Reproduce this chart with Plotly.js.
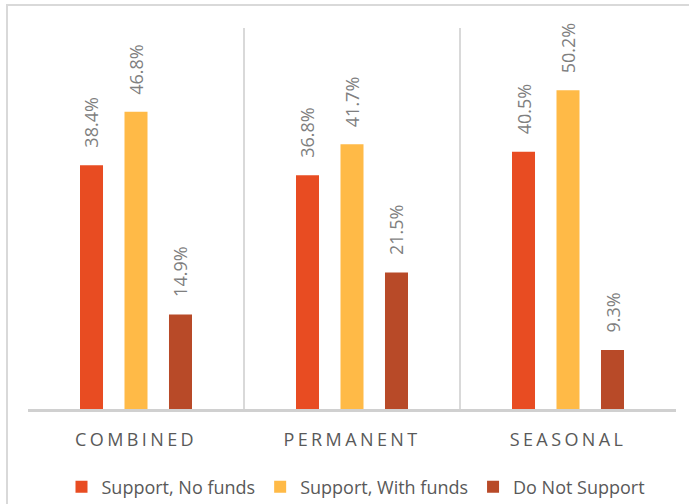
<!DOCTYPE html>
<html>
<head>
<meta charset="utf-8">
<script src="https://cdn.plot.ly/plotly-3.0.1.min.js"></script>
<style>
  html, body { margin: 0; padding: 0; background: #ffffff; overflow: hidden; }
  #frame { position: absolute; left: 6px; top: 4px; width: 720px; height: 540px; border: 2px solid #d9d9d9; box-sizing: border-box; }
  #chart { position: absolute; left: 0; top: 0; width: 689px; height: 504px; }
  #chart .xtick text { letter-spacing: 3.4px; }
</style>
</head>
<body>
<div id="frame"></div>
<div id="chart"></div>
<script>
const categories = ["COMBINED", "PERMANENT", "SEASONAL"];
const seriesNames = ["Support, No funds", "Support, With funds", "Do Not Support"];
const supportNoFunds = [38.4, 36.8, 40.5];
const supportWithFunds = [46.8, 41.7, 50.2];
const doNotSupport = [14.9, 21.5, 9.3];
const seriesColors = ["#E84C22", "#FFBA47", "#B84A28"];

const allSeries = [supportNoFunds, supportWithFunds, doNotSupport];
const bargap = 0.382;
const bargroupgap = 0.483;

const traces = allSeries.map((vals, i) => ({
  type: "bar",
  name: seriesNames[i],
  x: categories,
  y: vals,
  marker: { color: seriesColors[i] },
  hoverinfo: "none"
}));

const slot = (1 - bargap) / allSeries.length;
const annotations = [];
allSeries.forEach((vals, i) => {
  vals.forEach((v, j) => {
    annotations.push({
      xref: "x", yref: "y",
      x: j + (i - (allSeries.length - 1) / 2) * slot,
      y: v,
      text: v.toFixed(1) + "%",
      showarrow: false,
      textangle: -90,
      yanchor: "bottom",
      xanchor: "center",
      yshift: 15,
      font: { family: "Open Sans", size: 18, color: "#7f7f7f" }
    });
  });
});

const layout = {
  width: 689,
  height: 504,
  margin: { l: 28, r: 13, t: 28, b: 95, autoexpand: false },
  paper_bgcolor: "rgba(0,0,0,0)",
  plot_bgcolor: "rgba(0,0,0,0)",
  barmode: "group",
  bargap: bargap,
  bargroupgap: bargroupgap,
  font: { family: "Open Sans", size: 18, color: "#595959" },
  xaxis: {
    type: "category",
    automargin: false,
    tickson: "boundaries",
    showgrid: true,
    gridcolor: "#d9d9d9",
    gridwidth: 2,
    ticks: "",
    ticklabelstandoff: 12,
    showline: true,
    linecolor: "#d0d0d0",
    linewidth: 3,
    tickfont: { family: "Open Sans", size: 18, color: "#595959" },
    fixedrange: true
  },
  yaxis: {
    range: [0, 60],
    automargin: false,
    showgrid: false,
    zeroline: false,
    showticklabels: false,
    ticks: "",
    showline: false,
    fixedrange: true
  },
  showlegend: true,
  legend: {
    orientation: "h",
    x: 0.5 + 4 / 648, xanchor: "center",
    y: -0.205, yanchor: "middle",
    font: { family: "Open Sans", size: 18, color: "#595959" },
    bgcolor: "rgba(0,0,0,0)"
  },
  annotations: annotations
};

Plotly.newPlot("chart", traces, layout, { displayModeBar: false, staticPlot: true });
</script>
</body>
</html>
